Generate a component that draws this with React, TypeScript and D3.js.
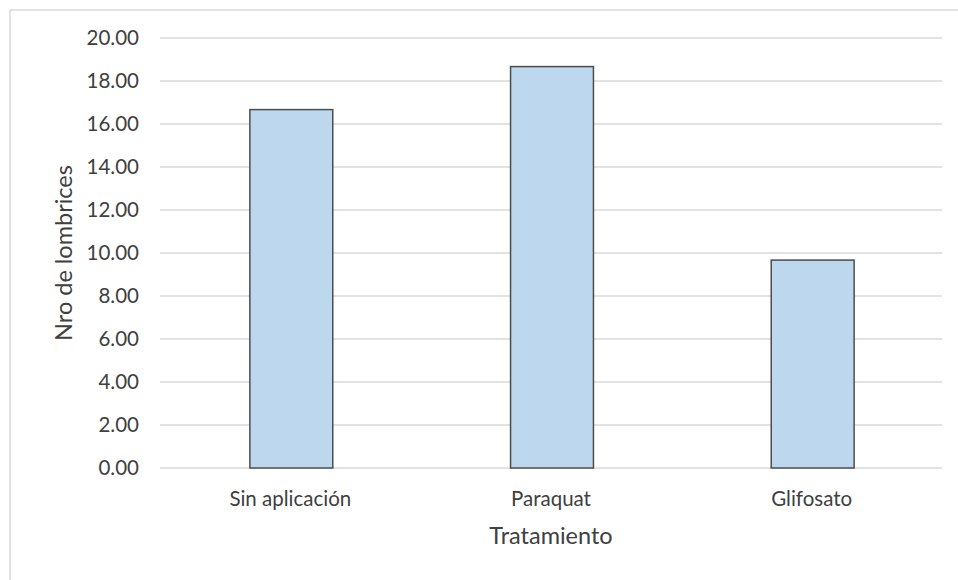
import React, { useEffect, useRef } from 'react';
import * as d3 from 'd3';

// Categories and values (Nro de lombrices per treatment)
const CATEGORIES = ['Sin aplicación', 'Paraquat', 'Glifosato'];
const VALUES = [16.67, 18.67, 9.67];
const Y_TICKS = [0, 2, 4, 6, 8, 10, 12, 14, 16, 18, 20];

const WIDTH = 958;
const HEIGHT = 580;
const FONT = 'Lato, "Open Sans", sans-serif';
const TEXT_COLOR = '#404040';

const App: React.FC = () => {
  const svgRef = useRef<SVGSVGElement>(null);

  useEffect(() => {
    if (!svgRef.current) return;
    const svg = d3.select(svgRef.current);
    svg.selectAll('*').remove();

    const plot = { left: 160, right: 942, top: 38, bottom: 468 };

    // Chart frame (cropped on right and bottom)
    svg.append('rect')
      .attr('x', 10)
      .attr('y', 10)
      .attr('width', 1200)
      .attr('height', 1000)
      .attr('fill', '#ffffff')
      .attr('stroke', '#d9d9d9')
      .attr('stroke-width', 1.5);

    const x = d3.scaleBand<string>()
      .domain(CATEGORIES)
      .range([plot.left, plot.right])
      .padding(0);

    const y = d3.scaleLinear()
      .domain([0, 20])
      .range([plot.bottom, plot.top]);

    // Gridlines
    svg.append('g')
      .selectAll('line')
      .data(Y_TICKS)
      .enter()
      .append('line')
      .attr('x1', plot.left)
      .attr('x2', plot.right)
      .attr('y1', (d) => y(d))
      .attr('y2', (d) => y(d))
      .attr('stroke', '#d9d9d9')
      .attr('stroke-width', 1.5);

    // Y tick labels
    svg.append('g')
      .selectAll('text')
      .data(Y_TICKS)
      .enter()
      .append('text')
      .attr('x', 139)
      .attr('y', (d) => y(d))
      .attr('dy', '0.36em')
      .attr('text-anchor', 'end')
      .attr('font-family', FONT)
      .attr('font-size', '20.5px')
      .attr('fill', TEXT_COLOR)
      .text((d) => d.toFixed(2));

    // Bars
    const barWidth = x.step() * 0.318;
    svg.append('g')
      .selectAll('rect')
      .data(VALUES)
      .enter()
      .append('rect')
      .attr('x', (d, i) => (x(CATEGORIES[i]) as number) + x.bandwidth() / 2 - barWidth / 2 + 1)
      .attr('y', (d) => y(d))
      .attr('width', barWidth)
      .attr('height', (d) => y(0) - y(d))
      .attr('fill', '#bdd7ee')
      .attr('stroke', '#4d4d4d')
      .attr('stroke-width', 1.5);

    // Category labels
    svg.append('g')
      .selectAll('text')
      .data(CATEGORIES)
      .enter()
      .append('text')
      .attr('x', (d) => (x(d) as number) + x.bandwidth() / 2)
      .attr('y', 506)
      .attr('text-anchor', 'middle')
      .attr('font-family', FONT)
      .attr('font-size', '20.5px')
      .attr('fill', TEXT_COLOR)
      .text((d) => d);

    // Axis titles
    svg.append('text')
      .attr('x', (plot.left + plot.right) / 2)
      .attr('y', 544)
      .attr('text-anchor', 'middle')
      .attr('font-family', FONT)
      .attr('font-size', '23.5px')
      .attr('fill', TEXT_COLOR)
      .text('Tratamiento');

    svg.append('text')
      .attr('transform', `translate(72,${(plot.top + plot.bottom) / 2}) rotate(-90)`)
      .attr('text-anchor', 'middle')
      .attr('font-family', FONT)
      .attr('font-size', '23.5px')
      .attr('fill', TEXT_COLOR)
      .text('Nro de lombrices');
  }, []);

  return (
    <svg
      ref={svgRef}
      width={WIDTH}
      height={HEIGHT}
      style={{ position: 'absolute', left: 0, top: 0, display: 'block', background: '#ffffff' }}
    />
  );
};

export default App;
